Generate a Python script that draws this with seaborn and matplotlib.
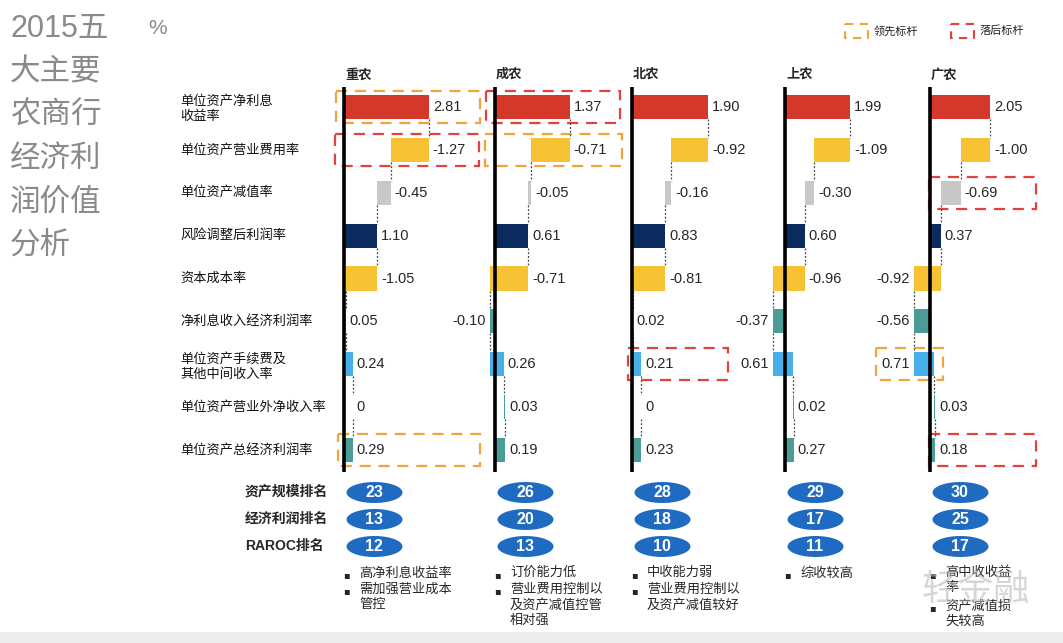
import matplotlib
matplotlib.use("Agg")
import matplotlib.pyplot as plt
import numpy as np
import pandas as pd
import seaborn as sns
from matplotlib.patches import Rectangle
from matplotlib.path import Path

# ---- datos ----
banks = ['重农', '成农', '北农', '上农', '广农']
items = ['单位资产净利息\n收益率', '单位资产营业费用率', '单位资产减值率',
         '风险调整后利润率', '资本成本率', '净利息收入经济利润率',
         '单位资产手续费及\n其他中间收入率', '单位资产营业外净收入率',
         '单位资产总经济利润率']
item_kind = ['total', 'delta', 'delta', 'total', 'delta', 'total', 'delta', 'delta', 'total']

v_cq = [2.81, -1.27, -0.45, 1.10, -1.05, 0.05, 0.24, 0, 0.29]
v_cd = [1.37, -0.71, -0.05, 0.61, -0.71, -0.10, 0.26, 0.03, 0.19]
v_bj = [1.90, -0.92, -0.16, 0.83, -0.81, 0.02, 0.21, 0, 0.23]
v_sh = [1.99, -1.09, -0.30, 0.60, -0.96, -0.37, 0.61, 0.02, 0.27]
v_gz = [2.05, -1.00, -0.69, 0.37, -0.92, -0.56, 0.71, 0.03, 0.18]
valores = [v_cq, v_cd, v_bj, v_sh, v_gz]

rank_names = ['资产规模排名', '经济利润排名', 'RAROC排名']
rank_asset = [23, 26, 28, 29, 30]
rank_profit = [13, 20, 18, 17, 25]
rank_raroc = [12, 13, 10, 11, 17]

notes = [
    ['高净利息收益率', '需加强营业成本\n管控'],
    ['订价能力低', '营业费用控制以\n及资产减值控管\n相对强'],
    ['中收能力弱', '营业费用控制以\n及资产减值较好'],
    ['综收较高'],
    ['高中收收益\n率', '资产减值损\n失较高'],
]

# ---- estilo / disposición ----
W, H = 1063, 643
colores = ['#d3382b', '#f8c235', '#c8c8c8', '#0b2b5f', '#f8c235',
           '#4b9c97', '#47aeea', '#4b9c97', '#4b9c97']
naranja = '#f2a43a'
rojo = '#e3403e'
zero_px = [344, 495, 632, 785, 930]
escala = [30.2, 54.5, 40.0, 32.7, 29.3]     # px por punto porcentual
row_y0, row_dy = 107, 42.9
label_left = {(1, 5), (3, 5), (3, 6), (4, 4), (4, 5), (4, 6)}
# (banco, fila, tipo, desde px, hasta px) respecto a la línea cero
cajas = [(0, 0, 'lead', -8, 136), (0, 1, 'lag', -9, 135), (0, 8, 'lead', -6, 136),
         (1, 0, 'lag', -9, 125), (1, 1, 'lead', -10, 127),
         (2, 6, 'lag', -4, 96),
         (4, 2, 'lag', -1, 106), (4, 8, 'lag', -1, 106), (4, 6, 'lead', -54, 13)]

sns.set_theme(style="white")
plt.rcParams['font.family'] = ['Liberation Sans', 'Noto Sans CJK SC', 'DejaVu Sans']

fig = plt.figure(figsize=(W / 100, H / 100), dpi=100)
fig.patch.set_facecolor('white')

# capa en píxeles para textos y adornos
ov = fig.add_axes([0, 0, 1, 1])
ov.set_xlim(0, W)
ov.set_ylim(H, 0)
ov.axis('off')
ov.add_patch(Rectangle((0, 632), W, 11, color='#ececec', lw=0))

titulo = ['2015五', '大主要', '农商行', '经济利', '润价值', '分析']
for k, t in enumerate(titulo):
    ov.text(10, 29 + 43.4 * k, t, fontsize=22, color='#8a8a8a', va='center', ha='left')
ov.text(148, 29, '%', fontsize=15, color='#8a8a8a', va='center', ha='left')

for k, it in enumerate(items):
    ov.text(180, row_y0 + row_dy * k + (2 if '\n' in it else 0), it, fontsize=9.5,
            va='center', ha='left', linespacing=1.25, color='#111111')

# leyenda
for x0, col, txt in [(845, naranja, '领先标杆'), (951, rojo, '落后标杆')]:
    ov.add_patch(Rectangle((x0, 24), 23, 14, fill=False, ec=col, lw=1.5, ls=(0, (4, 3))))
    ov.text(x0 + 29, 31, txt, fontsize=8, va='center', ha='left', color='#222222')

# paneles
for b, (banco, vals) in enumerate(zip(banks, valores)):
    z, s = zero_px[b], escala[b]
    ax = fig.add_axes([(z - 70) / W, 1 - 472 / H, 215 / W, 385 / H])
    ax.set_xlim(-70 / s, 145 / s)
    ax.set_ylim(8 + 22 / row_dy, -20 / row_dy)
    ax.axis('off')
    ax.patch.set_visible(False)
    ax.axvline(0, color='black', lw=2.6, zorder=3)

    acum = 0.0
    ends = []
    for i, v in enumerate(vals):
        start = 0.0 if item_kind[i] == 'total' else acum
        end = start + v
        acum = end
        ends.append(end)
        ax.barh(i, end - start, left=start, height=0.56, color=colores[i], lw=0, zorder=2)
        txt = '0' if v == 0 else f'{v:.2f}'
        if (b, i) in label_left:
            ax.text(min(start, end) - 4 / s, i, txt, ha='right', va='center', fontsize=10.5)
        else:
            ax.text(max(start, end) + 4 / s, i, txt, ha='left', va='center', fontsize=10.5)
    for i in range(len(vals) - 1):
        ax.plot([ends[i], ends[i]], [i + 0.28, i + 0.72], color='#444444', lw=0.9,
                ls=(0, (1.5, 1.5)), zorder=1)

    ov.text(z + 1, 75, banco, fontsize=9.5, fontweight='bold', va='center', ha='left')

# cajas de referencia
for b, i, tipo, a, c in cajas:
    y = row_y0 + row_dy * i
    col = naranja if tipo == 'lead' else rojo
    ov.add_patch(Rectangle((zero_px[b] + a, y - 16), c - a, 32, fill=False, ec=col,
                           lw=1.6, ls=(0, (5, 3.5)), zorder=5))

# rankings
rk = pd.DataFrame({
    'x': np.tile(np.array(zero_px) + 30, 3),
    'y': np.repeat([492, 519, 546], len(banks)),
    'v': rank_asset + rank_profit + rank_raroc,
})
tt = np.linspace(0, 2 * np.pi, 60)
elipse = Path(np.column_stack([np.cos(tt), 0.375 * np.sin(tt)]), closed=True)
sns.scatterplot(data=rk, x='x', y='y', ax=ov, marker=elipse, s=1625, color='#1f6bc2',
                linewidth=0, legend=False, zorder=6)
for _, r in rk.iterrows():
    ov.text(r['x'], r['y'] + 0.5, str(r['v']), color='white', fontsize=11.5,
            fontweight='bold', ha='center', va='center', zorder=7)
ov.set_xlim(0, W)
ov.set_ylim(H, 0)
ov.axis('off')
for k, n in enumerate(rank_names):
    ov.text(245, 492 + 27 * k, n, fontsize=10, fontweight='bold', va='center', ha='left')

# notas
for b, lst in enumerate(notes):
    y = 575
    for n in lst:
        ov.text(zero_px[b] - 1, y, '▪', fontsize=7, va='center', ha='left',
                family=['DejaVu Sans'])
        ov.text(zero_px[b] + 15, y - 8, n, fontsize=9.5, va='top', ha='left', linespacing=1.3)
        y += 16.5 * (n.count('\n') + 1)

ov.text(922, 590, '轻金融', fontsize=26, color='#b5b5b5', alpha=0.55, va='center', ha='left')

fig.savefig('out.png', dpi=100)
